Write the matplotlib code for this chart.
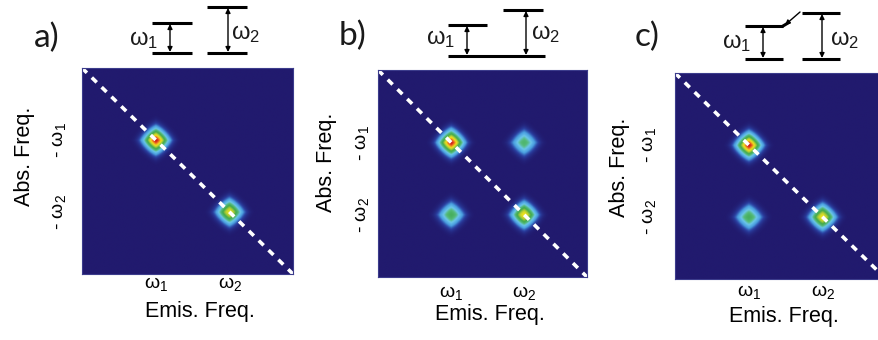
import numpy as np
import matplotlib
matplotlib.use('Agg')
import matplotlib.pyplot as plt
from matplotlib.colors import LinearSegmentedColormap

plt.rcParams['font.family'] = ['Liberation Sans', 'DejaVu Sans']
plt.rcParams['mathtext.fontset'] = 'custom'
plt.rcParams['mathtext.rm'] = 'Liberation Sans'
plt.rcParams['mathtext.it'] = 'Liberation Sans:italic'
plt.rcParams['text.color'] = '#1a1a1a'

# peak frequencies (arbitrary units, 0..1 across the spectrum)
peak_freqs = [0.35, 0.70]
emis_labels = ['ω$_1$', 'ω$_2$']
abs_labels = ['- ω$_1$', '- ω$_2$']
panel_names = ['a)', 'b)', 'c)']

# peak amplitudes, rows = absorption (-w1, -w2), cols = emission (w1, w2)
amps_a = [[1.0, 0.0], [0.0, 0.75]]
amps_b = [[1.0, 0.40], [0.45, 0.78]]
amps_c = [[1.0, 0.0], [0.45, 0.78]]
peak_width = 0.05

# colormap: dark navy background -> light blue -> green -> yellow -> red
cmap = LinearSegmentedColormap.from_list('spec', [
    (0.0, '#211a6e'), (0.06, '#2a3fa0'), (0.14, '#4a9ee0'), (0.26, '#6cc6ea'),
    (0.36, '#56bb7c'), (0.50, '#3ea84c'), (0.66, '#b6cf34'), (0.78, '#f2e41c'),
    (0.90, '#ef7d22'), (1.0, '#cf1a1a')])

W, H = 879, 340
fig = plt.figure(figsize=(W / 100, H / 100), dpi=100)

def px_axes(left, top, width, height):
    return fig.add_axes([left / W, 1 - (top + height) / H, width / W, height / H])

# pixel boxes of the three spectra
boxes = [(82, 68, 211, 206), (378, 70, 209, 207), (675, 73, 206, 206)]
xmaxes = [1.0, 1.0, 0.976]
ytick_pads = [10, 5, 12]
xtick_pads = [1, 5, 3]
xlabel_x = [0.56, 0.536, 0.529]
ylabel_pos = [(-0.225, 0.573), (-0.196, 0.556), (-0.22, 0.54)]

grid = np.linspace(0, 1, 301)
X, Y = np.meshgrid(grid, grid)

def spectrum(amps):
    Z = np.zeros_like(X)
    for i, ab in enumerate(peak_freqs):
        for j, em in enumerate(peak_freqs):
            A = amps[i][j]
            if A == 0:
                continue
            r = (np.abs(X - em) ** 1.3 + np.abs(Y - ab) ** 1.3) ** (1 / 1.3)
            Z += A * np.exp(-(r / peak_width) ** 2)
    return Z

for k, amps in enumerate([amps_a, amps_b, amps_c]):
    ax = px_axes(*boxes[k])
    ax.imshow(spectrum(amps), cmap=cmap, vmin=0, vmax=1, extent=[0, 1, 1, 0],
              interpolation='bilinear', aspect='auto')
    ax.plot([0, 1], [0, 1], color='white', lw=2.6, dashes=(1.9, 1.9))
    ax.set_xlim(0, xmaxes[k])
    ax.set_ylim(1, 0)
    ax.set_xticks(peak_freqs)
    ax.set_xticklabels(emis_labels, fontsize=14)
    ax.set_yticks(peak_freqs)
    ax.set_yticklabels(abs_labels, fontsize=14, rotation=90, va='center')
    ax.tick_params(axis='y', length=0, pad=ytick_pads[k])
    ax.tick_params(axis='x', length=0, pad=xtick_pads[k])
    ax.set_xlabel('Emis. Freq.', fontsize=15.5)
    ax.xaxis.set_label_coords(xlabel_x[k], -0.13)
    ax.set_ylabel('Abs. Freq.', fontsize=15.5)
    ax.yaxis.set_label_coords(*ylabel_pos[k])
    for s in ax.spines.values():
        s.set_color('#3c3c8c')
        s.set_linewidth(0.8)

# energy level sketches above the spectra (pixel coordinates)
ov = fig.add_axes([0, 0, 1, 1], facecolor='none')
ov.set_xlim(0, W)
ov.set_ylim(H, 0)
ov.axis('off')

levels = [
    [(152, 192, 23), (152, 192, 53), (207, 247, 7), (207, 247, 53)],
    [(448, 487, 25), (448, 545, 56), (503, 543, 10)],
    [(745, 783, 26), (745, 783, 59), (802, 840, 13), (802, 840, 59)],
]
arrows = [
    [(170, 23, 53), (228, 7, 53)],
    [(467, 25, 56), (526, 10, 56)],
    [(763, 26, 59), (822, 13, 59)],
]
level_labels = [
    [(144, 40), (246, 34)],
    [(441, 39), (546, 34)],
    [(737, 43), (845, 40)],
]
name_pos = [(47, 38), (353, 36), (647, 37)]

for k in range(3):
    for x0, x1, y in levels[k]:
        ov.plot([x0, x1], [y, y], color='black', lw=2.2, solid_capstyle='butt')
    for x, y0, y1 in arrows[k]:
        ov.annotate('', xy=(x, y1 - 1), xytext=(x, y0 + 1),
                    arrowprops=dict(arrowstyle='<|-|>', color='black', lw=1.0,
                                    mutation_scale=7, shrinkA=0, shrinkB=0))
    for (x, y), lab in zip(level_labels[k], emis_labels):
        ov.text(x, y, lab, fontsize=17, ha='center', va='center')
    ov.text(*name_pos[k], panel_names[k], fontsize=24, ha='center', va='center',
            family=['Lato', 'DejaVu Sans'])

# coupling kink and arrow in c)
ov.plot([783, 788], [26, 23], color='black', lw=2.2)
ov.annotate('', xy=(785, 25), xytext=(800, 12),
            arrowprops=dict(arrowstyle='-|>', color='black', lw=1.0,
                            mutation_scale=7, shrinkA=0, shrinkB=0))

fig.savefig('out.png', dpi=100)
